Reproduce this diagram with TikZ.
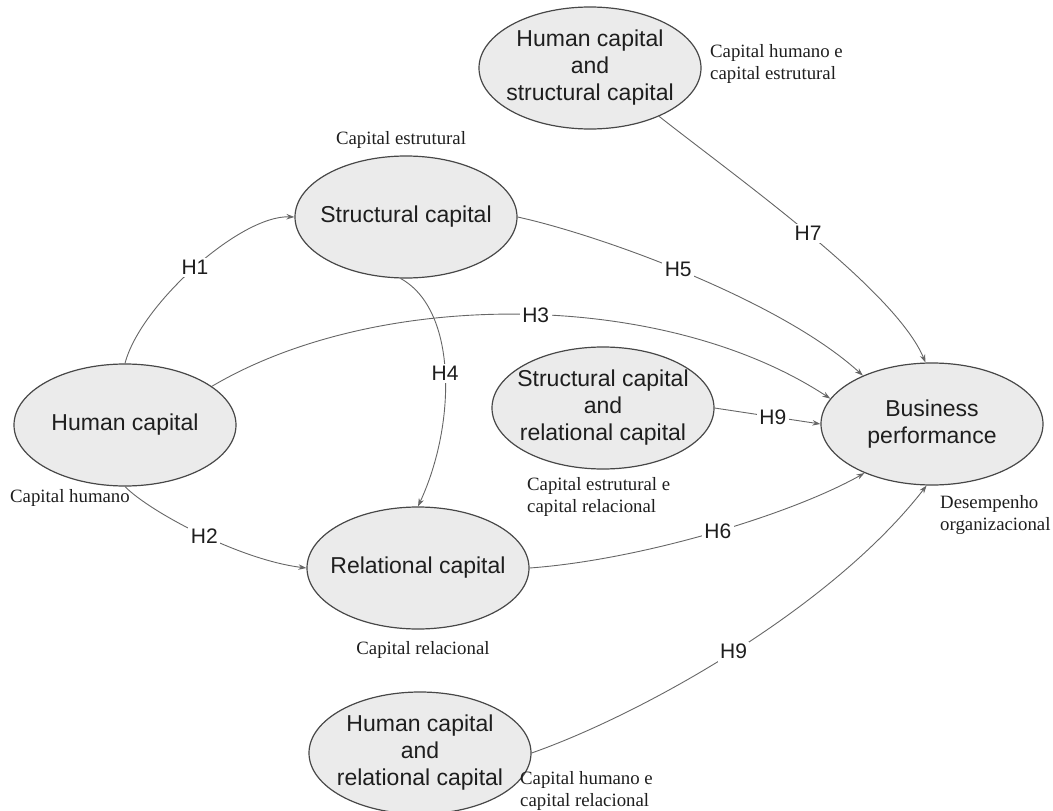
\documentclass[tikz,border=0pt]{standalone}
\usepackage{fontspec}
\setmainfont{Liberation Serif}
\newfontfamily\arialike{Liberation Sans}
\usetikzlibrary{shapes.geometric,arrows.meta}
\definecolor{blobfill}{HTML}{EBEBEB}
\definecolor{blobline}{HTML}{474747}
\definecolor{linkgray}{HTML}{666666}
\definecolor{inkdark}{HTML}{1E1E1E}
\begin{document}
\begin{tikzpicture}[x=1pt,y=-1pt,
  blob/.style={ellipse, draw=blobline, line width=1.2pt, fill=blobfill,
    minimum width=222pt, minimum height=122pt, inner sep=0pt},
  blobtext/.style={align=center, text=inkdark, inner sep=0pt,
    font=\arialike\fontsize{23}{27}\selectfont},
  note/.style={align=left, text=inkdark, inner sep=0pt,
    font=\fontsize{18.8}{22}\selectfont},
  link/.style={draw=linkgray, line width=0.9pt,
    -{Stealth[length=8pt,width=5.5pt]}},
  hyp/.style={fill=white, text=inkdark, inner sep=2.5pt,
    font=\arialike\fontsize{21}{24}\selectfont}]
\useasboundingbox (0,0) rectangle (1053,811);

% constructs
\node[blob] (HS) at (590,68) {};
\node[blobtext] (HSt) at (HS) {Human capital\\and\\structural capital};
\node[blob] (SC) at (406,217) {};
\node[blobtext] (SCt) at (SC) {Structural capital};
\node[blob] (HC) at (125,425) {};
\node[blobtext] (HCt) at (HC) {Human capital};
\node[blob] (SR) at (603,408) {};
\node[blobtext] (SRt) at (SR) {Structural capital\\and\\relational capital};
\node[blob] (BP) at (932,424) {};
\node[blobtext] (BPt) at (BP) {Business\\performance};
\node[blob] (RC) at (418,568) {};
\node[blobtext] (RCt) at (RC) {Relational capital};
\node[blob] (HR) at (420,753) {};
\node[blobtext] (HRt) at (HR) {Human capital\\and\\relational capital};

% Portuguese captions
\node[note, anchor=west] (nHS) at (710,64) {Capital humano e\\capital estrutural};
\node[note] (nSC) at (401,140) {Capital estrutural};
\node[note, anchor=west] (nHC) at (10,498) {Capital humano};
\node[note, anchor=west] (nSR) at (527,497) {Capital estrutural e\\capital relacional};
\node[note, anchor=west] (nBP) at (940,515) {Desempenho\\organizacional};
\node[note] (nRC) at (423,650) {Capital relacional};
\node[note, anchor=west] (nHR) at (520,791) {Capital humano e\\capital relacional};

% hypotheses
\draw[link] (HC.north) .. controls (140,305) and (240,215) .. node[hyp,pos=0.5] {H1} (SC.west);
\draw[link] (HC.south) .. controls (150,512) and (240,560) .. node[hyp,pos=0.52] {H2} (RC.west);
\draw[link] (HC.24) .. controls (380,287) and (665,290) .. node[hyp,pos=0.52] {H3} (BP.166);
\draw[link] (SC.265) .. controls (458,310) and (456,425) .. node[hyp,pos=0.5] {H4} (RC.north);
\draw[link] (SC.east) .. controls (600,235) and (780,300) .. node[hyp,pos=0.47] {H5} (BP.145);
\draw[link] (RC.east) .. controls (640,560) and (790,515) .. node[hyp,pos=0.52] {H6} (BP.216);
\draw[link] (HS.325) .. controls (740,180) and (895,290) .. node[hyp,pos=0.49] {H7} (BP.96);
\draw[link] (SR.east) -- node[hyp,pos=0.55] {H9} (BP.west);
\draw[link] (HR.east) .. controls (640,715) and (830,610) .. node[hyp,pos=0.5] {H9} (BP.265);
\end{tikzpicture}
\end{document}
